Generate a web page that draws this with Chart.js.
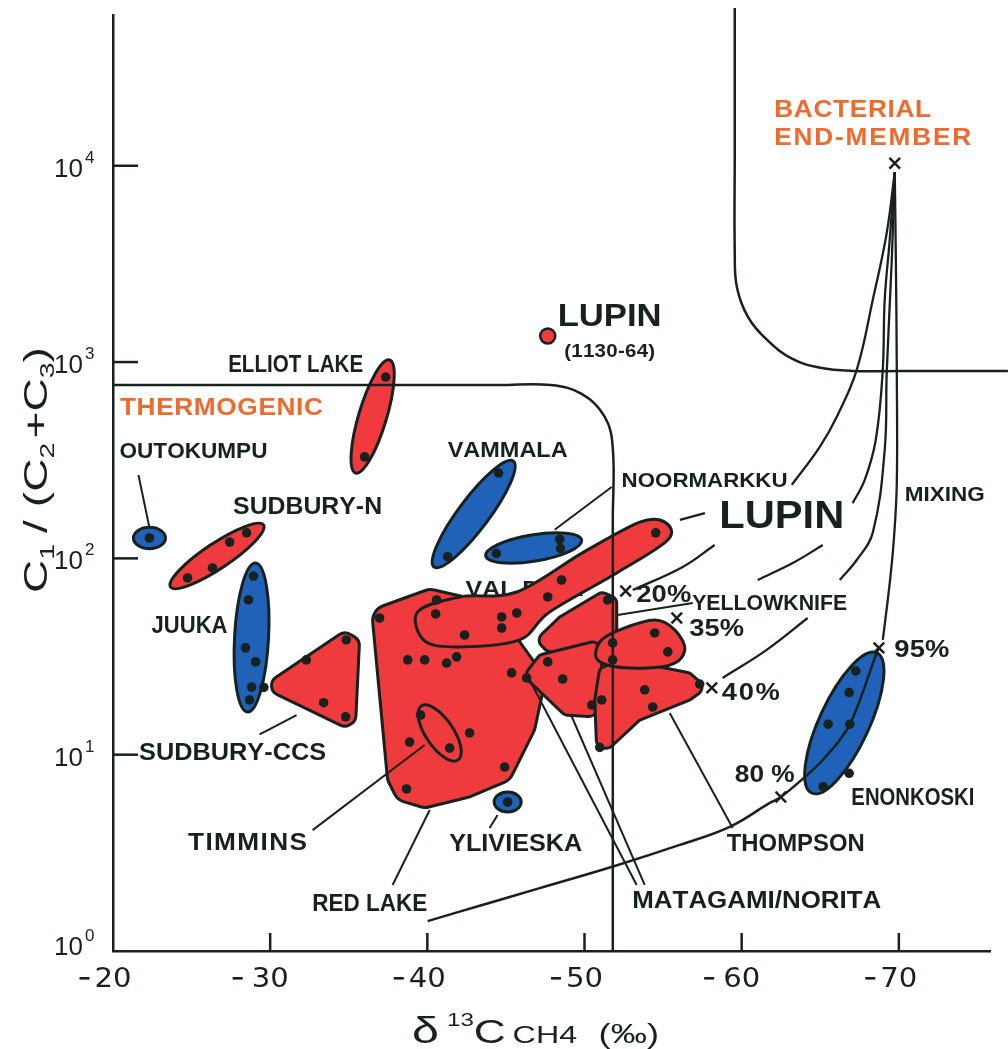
<!DOCTYPE html>
<html>
<head>
<meta charset="utf-8">
<script src="https://cdn.jsdelivr.net/npm/chart.js@4.4.1/dist/chart.umd.min.js"></script>
<style>
  html, body { margin: 0; padding: 0; background: #ffffff; }
  canvas { display: block; }
</style>
</head>
<body>
<canvas id="chart" width="1008" height="1049"></canvas>
<script>
// ---- axes -------------------------------------------------------------
const xTicks = [-20, -30, -40, -50, -60, -70];
const xTickText = ['-20', '- 30', '-40', '-50', '- 60', '-70'];
const yTicks = [1, 10, 100, 1000, 10000];
const yTickExp = ['0', '1', '2', '3', '4'];

// ---- fields: points are [δ13C CH4 (‰), C1/(C2+C3)] ----------------------
// ovals: [axis end, axis end, point on the long side]
const outokumpuOval = [[-21.3, 127], [-23.34, 127], [-22.32, 144]];
const sudburyNOval  = [[-23.66, 71.5], [-29.58, 148], [-27.03, 90.4]];
const elliotOval    = [[-37.6, 1025], [-35.44, 272], [-37.37, 504]];
const juukaOval     = [[-29.07, 94.8], [-28.56, 16.5], [-29.9, 39.8]];
const vammalaOval   = [[-45.47, 313], [-40.43, 90.4], [-43.7, 150]];
const noormarkkuOval = [[-43.71, 103], [-49.82, 124], [-46.89, 97]];
const ylivieskaOval = [[-44.25, 5.74], [-45.97, 5.74], [-45.11, 6.45]];
const timminsOval   = [[-39.62, 17.7], [-41.95, 9.4], [-41.52, 14.1]];
const enonkoskiOval = [[-68.6, 33.0], [-64.46, 6.38], [-67.96, 12.8]];

// outlined polygons
const sudburyCcsPoly = [[-29.45, 22.1], [-34.74, 42.7], [-35.69, 38.4], [-35.44, 14.7], [-34.74, 13.8]];
const redLakePoly = [[-36.45, 54.6], [-40.15, 69.9], [-42.69, 62.8], [-45.56, 40.7], [-47.53, 24.6],
  [-46.83, 13.4], [-45.24, 7.43], [-42.69, 6.09], [-39.83, 5.35], [-38.11, 5.88], [-37.47, 7.43]];
const valDorPoly = [[-46.89, 38.4], [-48.42, 50.3], [-51.09, 67.4], [-52.05, 62.8], [-52.05, 36.2],
  [-49.37, 33.4], [-47.66, 33.4]];
const lupinField = [[-39.38, 53.3], [-42.06, 63.6], [-45.69, 67.4], [-49.89, 107], [-53.52, 153],
  [-55.11, 153], [-55.3, 124], [-52.05, 84.3], [-47.78, 53.3], [-45.87, 38.4], [-42.06, 35.4], [-39.83, 38.0]];
const matagamiPoly = [[-46.13, 25.2], [-47.14, 32.2], [-50.97, 38.4], [-51.28, 17.9], [-50.46, 15.6], [-48.74, 15.9]];
const thompsonPoly = [[-50.97, 27.7], [-52.56, 30.4], [-56.7, 26.1], [-57.78, 21.9], [-56.7, 19.0],
  [-53.51, 15.0], [-51.6, 10.8], [-50.77, 10.8], [-50.65, 19.0]];
const yellowknifePoly = [[-50.97, 37.5], [-52.24, 43.2], [-54.47, 48.5], [-55.74, 43.2], [-56.38, 34.2],
  [-55.42, 28.6], [-52.56, 27.7], [-50.84, 30.4]];

// ---- individual samples ---------------------------------------------------
const outokumpuDots = [[-22.32, 127]];
const sudburyNDots = [[-24.74, 79.5], [-26.33, 89.4], [-27.42, 121], [-28.5, 135]];
const elliotDots = [[-37.35, 839], [-36.01, 329]];
const juukaDots = [[-28.94, 81.3], [-28.62, 61.4], [-28.43, 35.0], [-29.07, 29.7], [-28.82, 22.1], [-28.69, 19.0]];
const sudburyCcsDots = [[-32.3, 30.4], [-34.84, 38.4], [-33.4, 18.4], [-34.8, 15.6], [-29.6, 22.0]];
const vammalaDots = [[-44.53, 272], [-41.29, 102]];
const noormarkkuDots = [[-44.39, 106], [-48.42, 125], [-48.47, 112.5]];
const redLakeDots = [[-36.96, 49.7], [-40.59, 61.4], [-38.75, 30.4], [-39.83, 30.4], [-41.23, 29.3],
  [-41.86, 31.5], [-45.36, 26.1], [-42.69, 12.9], [-38.87, 11.6], [-44.92, 8.65], [-38.68, 6.69]];
const timminsDots = [[-39.57, 15.9], [-41.42, 10.8]];
const lupinDots = [[-54.53, 135], [-48.54, 77.6], [-47.66, 63.6], [-45.69, 52.7], [-44.73, 50.3],
  [-44.73, 44.2], [-40.53, 52.1], [-42.37, 40.7]];
const ylivieskaDots = [[-45.11, 5.74]];
const matagamiDots = [[-47.66, 29.7], [-48.61, 24.3], [-50.46, 17.9], [-46.32, 24.6]];
const valDorDots = [[-51.47, 61.4], [-51.79, 37.1], [-51.79, 30.4]];
const yellowknifeDots = [[-54.47, 41.7], [-55.3, 33.4]];
const thompsonDots = [[-53.83, 21.4], [-54.34, 17.5], [-50.97, 10.9], [-57.33, 22.9], [-51.09, 19.0]];
const enonkoskiDots = [[-67.26, 26.7], [-66.84, 20.7], [-65.5, 14.3], [-66.88, 14.3], [-66.84, 8.04], [-65.18, 6.87]];
const lupin113064 = [[-47.66, 1358]];

// bacterial end-member and mixing fractions (20, 35, 40, 95, 80 %)
const mixMarks = [[-69.74, 10300], [-52.62, 68.2], [-55.87, 49.7], [-58.1, 21.9], [-68.73, 35.0], [-62.49, 6.09]];

// ---- field boundaries -------------------------------------------------------
const thermogenicBound = [[-20, 764], [-44.6, 764], [-47.85, 764], [-49.82, 688], [-51.29, 525],
  [-51.8, 365], [-51.8, 157], [-51.8, 1]];
const bacterialBound = [[-59.56, 63700], [-59.56, 12030], [-59.56, 3600], [-59.7, 2400], [-60.4, 1700],
  [-61.6, 1300], [-63.2, 1040], [-65.0, 935], [-67.07, 901], [-70.06, 901], [-76.94, 901]];

// ---- mixing curves ----------------------------------------------------------
const mix20a = [[-69.74, 9290], [-69.23, 4550], [-68.34, 2070], [-67.32, 912], [-66.11, 538], [-64.97, 370], [-63.19, 237]];
const mix20b = [[-58.28, 117], [-56.25, 90.4], [-53.07, 69.0]];
const mix35a = [[-69.74, 9290], [-69.42, 4190], [-69.1, 2070], [-68.97, 891], [-68.53, 401], [-67.83, 251], [-67.06, 191]];
const mix35b = [[-65.16, 117], [-63.37, 95.9], [-61.02, 77.6]];
const mix40a = [[-69.74, 9290], [-69.55, 3310], [-69.23, 891], [-69.1, 357], [-68.34, 135], [-67.32, 98.1], [-66.24, 77.6]];
const mix40b = [[-64.2, 49.7], [-61.59, 34.2], [-58.79, 24.6]];
const mix95 = [[-69.74, 9290], [-69.81, 3310], [-69.87, 891], [-69.87, 242], [-69.68, 124], [-69.42, 74.9], [-68.98, 38.4]];
const mixLow = [[-40.02, 1.42], [-43.33, 1.70], [-47.15, 2.09], [-51.92, 2.71], [-56.06, 3.47], [-59.24, 4.29],
  [-61.79, 5.68], [-62.49, 6.09], [-64.01, 7.69], [-65.16, 9.4], [-66.69, 13.4], [-67.52, 19.0], [-68.47, 31.1], [-68.73, 35.0]];

// ---- leader lines -----------------------------------------------------------
const outokumpuLeader = [[-21.62, 266], [-22.32, 143]];
const noormarkkuLeader = [[-48.1, 140], [-51.73, 231]];
const lupinLeader = [[-56.07, 157], [-57.66, 170]];
const sudburyCcsLeader = [[-31.68, 15.9], [-29.33, 12.7]];
const timminsLeader = [[-39.83, 11.2], [-32.7, 4.13]];
const redLakeLeader = [[-40.15, 5.23], [-37.79, 2.17]];
const ylivieskaLeader = [[-44.47, 4.93], [-43.96, 4.23]];
const matagamiLeaderA = [[-46.51, 24.0], [-53.32, 2.17]];
const matagamiLeaderB = [[-49.18, 15.7], [-53.83, 2.17]];
const thompsonLeader = [[-55.42, 16.3], [-59.43, 4.23]];
const yellowknifeLeader = [[-52.11, 51.5], [-56.89, 59.3]];

// ---- styling ----------------------------------------------------------------
const INK = '#17211d';
const RED = '#ef3b3d';
const BLUE = '#1f62b8';
const ORANGE = '#ee6a2e';
const FAMILY = '"Liberation Sans", Arial, sans-serif';
const WIDE = '"DejaVu Sans", "Liberation Sans", sans-serif';

const fields = [
  { kind: 'poly', pts: redLakePoly, fill: RED, r: 16 },
  { kind: 'poly', pts: valDorPoly, fill: RED, r: 8 },
  { kind: 'poly', pts: matagamiPoly, fill: RED, r: 8 },
  { kind: 'poly', pts: thompsonPoly, fill: RED, r: 8 },
  { kind: 'smooth', pts: yellowknifePoly, fill: RED },
  { kind: 'smooth', pts: lupinField, fill: RED },
  { kind: 'oval', pts: timminsOval, fill: RED },
  { kind: 'poly', pts: sudburyCcsPoly, fill: RED, r: 10 },
  { kind: 'oval', pts: juukaOval, fill: BLUE },
  { kind: 'oval', pts: outokumpuOval, fill: BLUE },
  { kind: 'oval', pts: sudburyNOval, fill: RED },
  { kind: 'oval', pts: elliotOval, fill: RED },
  { kind: 'oval', pts: vammalaOval, fill: BLUE },
  { kind: 'oval', pts: noormarkkuOval, fill: BLUE },
  { kind: 'oval', pts: ylivieskaOval, fill: BLUE },
  { kind: 'oval', pts: enonkoskiOval, fill: BLUE }
];

// text annotations anchored in data space
const labelsUnder = [
  { t: "VAL D'OR", at: [-46.19, 70.7], size: 22, w: 118 }
];
const labels = [
  { t: 'THERMOGENIC', at: [-26.9, 590], size: 23, w: 203, color: ORANGE },
  { t: 'BACTERIAL', at: [-67.06, 19450], size: 23, w: 157, color: ORANGE },
  { t: 'END-MEMBER', at: [-68.34, 14020], size: 23, w: 197, color: ORANGE },
  { t: 'ELLIOT LAKE', at: [-31.62, 977], size: 23, w: 135 },
  { t: 'OUTOKUMPU', at: [-25.12, 357], size: 22, w: 148 },
  { t: 'SUDBURY-N', at: [-32.38, 185], size: 23, w: 149 },
  { t: 'JUUKA', at: [-24.87, 45.8], size: 23, w: 76 },
  { t: 'SUDBURY-CCS', at: [-27.61, 10.4], size: 23, w: 187 },
  { t: 'TIMMINS', at: [-28.56, 3.59], size: 23, w: 119 },
  { t: 'RED LAKE', at: [-36.33, 1.76], size: 23, w: 115 },
  { t: 'YLIVIESKA', at: [-45.62, 3.55], size: 23, w: 133 },
  { t: 'MATAGAMI/NORITA', at: [-60.96, 1.82], size: 23, w: 249 },
  { t: 'THOMPSON', at: [-63.44, 3.55], size: 23, w: 138 },
  { t: 'ENONKOSKI', at: [-70.89, 6.09], size: 23, w: 123 },
  { t: '80 %', at: [-61.47, 8.07], size: 24, w: 60 },
  { t: '95%', at: [-71.46, 35.0], size: 24, w: 55 },
  { t: '40%', at: [-60.58, 21.1], size: 24, w: 58 },
  { t: '35%', at: [-58.41, 44.7], size: 24, w: 55 },
  { t: '20%', at: [-55.04, 66.7], size: 24, w: 55 },
  { t: 'YELLOWKNIFE', at: [-61.78, 60.0], size: 22, w: 155 },
  { t: 'MIXING', at: [-72.92, 215], size: 21, w: 80 },
  { t: 'LUPIN', at: [-62.55, 168], size: 38, w: 125 },
  { t: 'NOORMARKKU', at: [-57.64, 251], size: 21, w: 166 },
  { t: 'VAMMALA', at: [-45.11, 361], size: 22, w: 120 },
  { t: 'LUPIN', at: [-51.6, 1738], size: 31, w: 104 },
  { t: '(1130-64)', at: [-51.6, 1140], size: 18, w: 91 }
];

// ---- helpers ----------------------------------------------------------------
const asXY = pts => pts.map(([x, y]) => ({ x, y }));
const toPx = (chart, p) => [chart.scales.x.getPixelForValue(p[0]), chart.scales.y.getPixelForValue(p[1])];

function ovalPath(ctx, pts) {
  const [a, b, s] = pts;
  const dx = b[0] - a[0], dy = b[1] - a[1];
  const len = Math.hypot(dx, dy);
  const half = Math.abs((s[0] - a[0]) * dy - (s[1] - a[1]) * dx) / len;
  ctx.beginPath();
  ctx.ellipse((a[0] + b[0]) / 2, (a[1] + b[1]) / 2, len / 2, half, Math.atan2(dy, dx), 0, Math.PI * 2);
  ctx.closePath();
}

function roundPath(ctx, pts, r) {
  const n = pts.length;
  ctx.beginPath();
  ctx.moveTo((pts[n - 1][0] + pts[0][0]) / 2, (pts[n - 1][1] + pts[0][1]) / 2);
  for (let i = 0; i < n; i++) {
    const p = pts[i], q = pts[(i + 1) % n];
    ctx.arcTo(p[0], p[1], (p[0] + q[0]) / 2, (p[1] + q[1]) / 2, r);
  }
  ctx.closePath();
}

function smoothPath(ctx, pts) {
  const n = pts.length;
  ctx.beginPath();
  ctx.moveTo(pts[0][0], pts[0][1]);
  for (let i = 0; i < n; i++) {
    const p0 = pts[(i - 1 + n) % n], p1 = pts[i], p2 = pts[(i + 1) % n], p3 = pts[(i + 2) % n];
    ctx.bezierCurveTo(
      p1[0] + (p2[0] - p0[0]) / 6, p1[1] + (p2[1] - p0[1]) / 6,
      p2[0] - (p3[0] - p1[0]) / 6, p2[1] - (p3[1] - p1[1]) / 6,
      p2[0], p2[1]);
  }
  ctx.closePath();
}

// hand-lettered look: glyphs widened a little, the rest made up with letter spacing
function fitText(ctx, text, cx, cy, font, size, width, color) {
  ctx.save();
  ctx.font = font;
  ctx.fillStyle = color;
  ctx.textAlign = 'left';
  ctx.textBaseline = 'alphabetic';
  const chars = [...text];
  const ws = chars.map(c => ctx.measureText(c).width);
  const nat = ws.reduce((a, b) => a + b, 0);
  let sx = Math.min(width / nat, 1.14);
  let gap = chars.length > 1 ? (width - nat * sx) / (chars.length - 1) : 0;
  if (gap < 0) { sx = width / nat; gap = 0; }
  ctx.translate(cx - width / 2, cy + size * 0.36);
  let pos = 0;
  chars.forEach((c, i) => {
    ctx.save();
    ctx.translate(pos, 0);
    ctx.scale(sx, 1);
    ctx.fillText(c, 0, 0);
    ctx.restore();
    pos += ws[i] * sx + gap;
  });
  ctx.restore();
}

function drawLabel(chart, l) {
  const [x, y] = toPx(chart, l.at);
  fitText(chart.ctx, l.t, x, y, `bold ${l.size}px ${FAMILY}`, l.size, l.w, l.color || INK);
}

// run of text pieces with their own size and shift, stretched to a total width
function richText(ctx, parts, x, baseline, width, family) {
  let nat = 0;
  parts.forEach(p => {
    ctx.font = `${p.size}px ${family}`;
    nat += ctx.measureText(p.t).width + (p.gap || 0);
  });
  const sx = width / nat;
  ctx.save();
  ctx.translate(x, baseline);
  ctx.scale(sx, 1);
  let pos = 0;
  parts.forEach(p => {
    ctx.font = `${p.size}px ${family}`;
    ctx.fillText(p.t, pos, p.dy || 0);
    pos += ctx.measureText(p.t).width + (p.gap || 0);
  });
  ctx.restore();
}

const fieldPlugin = {
  id: 'fieldPlugin',
  beforeDatasetsDraw(chart) {
    const ctx = chart.ctx;
    labelsUnder.forEach(l => drawLabel(chart, l));
    fields.forEach(f => {
      const pts = f.pts.map(p => toPx(chart, p));
      ctx.save();
      if (f.kind === 'oval') ovalPath(ctx, pts);
      else if (f.kind === 'smooth') smoothPath(ctx, pts);
      else roundPath(ctx, pts, f.r || 10);
      ctx.fillStyle = f.fill;
      ctx.fill();
      ctx.lineWidth = 3;
      ctx.lineJoin = 'round';
      ctx.strokeStyle = INK;
      ctx.stroke();
      ctx.restore();
    });
  },
  afterDatasetsDraw(chart) {
    labels.forEach(l => drawLabel(chart, l));
  },
  afterDraw(chart) {
    const ctx = chart.ctx;
    const { x: xs, y: ys } = chart.scales;
    const area = chart.chartArea;
    ctx.save();
    ctx.strokeStyle = INK;
    ctx.fillStyle = INK;
    ctx.lineWidth = 2.5;
    // inward tick marks
    xTicks.forEach((v, i) => {
      if (i === 0) return;
      const px = xs.getPixelForValue(v);
      ctx.beginPath(); ctx.moveTo(px, area.bottom); ctx.lineTo(px, area.bottom - 18); ctx.stroke();
    });
    yTicks.forEach((v, i) => {
      if (i === 0) return;
      const py = ys.getPixelForValue(v);
      ctx.beginPath(); ctx.moveTo(area.left, py); ctx.lineTo(area.left + 25, py); ctx.stroke();
    });
    // x tick labels: digits centred on the tick, minus sign hanging to the left
    xTicks.forEach((v, i) => {
      const px = xs.getPixelForValue(v);
      const digits = xTickText[i].replace(/[-\s]/g, '');
      const spaced = xTickText[i].indexOf(' ') >= 0;
      ctx.save();
      ctx.font = `26px ${WIDE}`;
      ctx.textBaseline = 'alphabetic';
      const dw = ctx.measureText(digits).width * 1.12;
      ctx.translate(px - dw / 2, area.bottom + 36);
      ctx.scale(1.12, 1);
      ctx.textAlign = 'left';
      ctx.fillText(digits, 0, 0);
      ctx.restore();
      ctx.fillRect(px - dw / 2 - (spaced ? 19 : 15), area.bottom + 26, 10, 2.6);
    });
    // y tick labels: 10 with exponent
    yTicks.forEach((v, i) => {
      const py = ys.getPixelForValue(v) + (i === 0 ? -7 : 0);
      ctx.textAlign = 'right';
      ctx.font = `26px ${FAMILY}`;
      ctx.fillText('10', 83, py + 11);
      ctx.textAlign = 'left';
      ctx.font = `17px ${FAMILY}`;
      ctx.fillText(yTickExp[i], 85, py - 3);
    });
    // x axis title
    ctx.textAlign = 'left';
    richText(ctx, [
      { t: 'δ', size: 36, gap: 6 },
      { t: '13', size: 18, dy: -17 },
      { t: 'C', size: 33, gap: 5 },
      { t: 'CH', size: 24 },
      { t: '4', size: 24, gap: 16 },
      { t: '(‰)', size: 27 }
    ], 412, 1043, 247, FAMILY);
    // y axis title (rotated)
    ctx.save();
    ctx.translate(47, 470);
    ctx.rotate(-Math.PI / 2);
    richText(ctx, [
      { t: 'C', size: 34 }, { t: '1', size: 21, dy: 7, gap: 8 },
      { t: '/ (C', size: 34 }, { t: '2', size: 21, dy: 7, gap: 3 },
      { t: '+C', size: 34 }, { t: '3', size: 21, dy: 7 }, { t: ')', size: 34 }
    ], -123, 0, 246, FAMILY);
    ctx.restore();
    ctx.restore();
  }
};

// ---- datasets ---------------------------------------------------------------
const allDots = [].concat(outokumpuDots, sudburyNDots, elliotDots, juukaDots, sudburyCcsDots, vammalaDots,
  noormarkkuDots, redLakeDots, timminsDots, lupinDots, ylivieskaDots, matagamiDots, valDorDots,
  yellowknifeDots, thompsonDots, enonkoskiDots);

const curve = (pts, width, tension, extra) => Object.assign({
  data: asXY(pts), showLine: true, pointRadius: 0, borderColor: INK, borderWidth: width,
  tension: tension, fill: false, order: 2
}, extra || {});

const datasets = [
  { data: asXY(allDots), pointRadius: 4.8, backgroundColor: INK, borderWidth: 0, showLine: false, order: 0 },
  { data: asXY(lupin113064), pointRadius: 7.5, backgroundColor: RED, borderColor: INK, borderWidth: 2.5, showLine: false, order: 0 },
  { data: asXY(mixMarks), pointStyle: 'crossRot', pointRadius: 7.5, borderColor: INK, borderWidth: 2.5, showLine: false, order: 1 },
  curve(thermogenicBound, 2.5, 0.4, { clip: false }),
  curve(bacterialBound, 2.5, 0.4, { clip: false }),
  curve(mix20a, 2.3, 0.4), curve(mix20b, 2.3, 0.4),
  curve(mix35a, 2.3, 0.4), curve(mix35b, 2.3, 0.4),
  curve(mix40a, 2.3, 0.4), curve(mix40b, 2.3, 0.4),
  curve(mix95, 2.3, 0.4), curve(mixLow, 2.5, 0.4),
  curve(outokumpuLeader, 2, 0), curve(noormarkkuLeader, 2, 0), curve(lupinLeader, 2.5, 0),
  curve(sudburyCcsLeader, 2, 0), curve(timminsLeader, 2, 0), curve(redLakeLeader, 2, 0),
  curve(ylivieskaLeader, 2, 0), curve(matagamiLeaderA, 2, 0), curve(matagamiLeaderB, 2, 0),
  curve(thompsonLeader, 2, 0), curve(yellowknifeLeader, 2, 0)
];

new Chart(document.getElementById('chart').getContext('2d'), {
  type: 'scatter',
  data: { datasets },
  options: {
    responsive: false,
    animation: false,
    devicePixelRatio: 1,
    layout: { padding: { left: 113, right: 18, top: 15, bottom: 98 } },
    scales: {
      x: {
        type: 'linear', min: -75.8, max: -20, reverse: true,
        grid: { display: false, drawTicks: false },
        ticks: { display: false },
        border: { display: true, width: 2.5, color: INK },
        afterFit: s => { s.height = 0; }
      },
      y: {
        type: 'logarithmic', min: 1, max: 58600,
        grid: { display: false, drawTicks: false },
        ticks: { display: false },
        border: { display: true, width: 2.5, color: INK },
        afterFit: s => { s.width = 0; }
      }
    },
    plugins: { legend: { display: false }, tooltip: { enabled: false } }
  },
  plugins: [fieldPlugin]
});
</script>
</body>
</html>
